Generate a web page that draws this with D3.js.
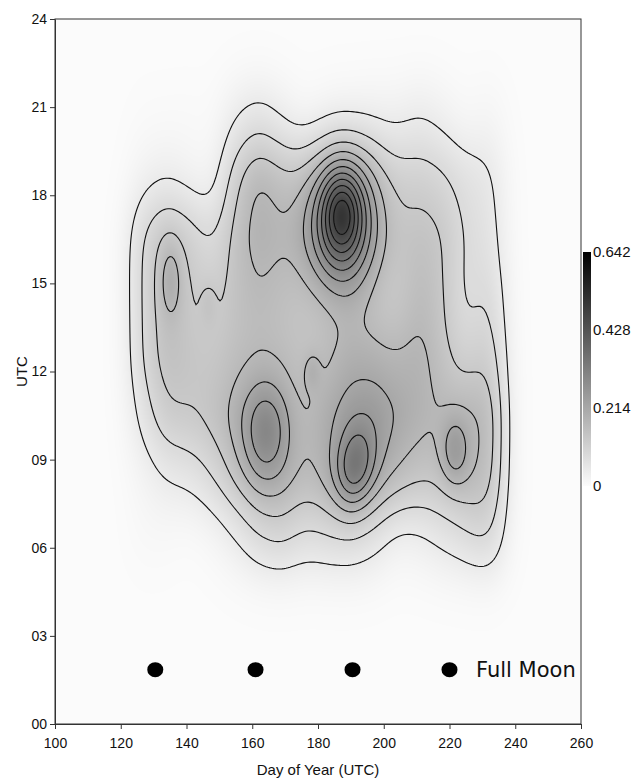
<!DOCTYPE html>
<html>
<head>
<meta charset="utf-8">
<script src="https://cdn.jsdelivr.net/npm/d3@7"></script>
<style>
  body { margin: 0; background: #ffffff; }
  svg { display: block; }
  .tick text { font-family: "Liberation Sans", Arial, sans-serif; font-size: 14px; fill: #111; }
</style>
</head>
<body>
<svg id="chart" width="636" height="778"></svg>
<script>
// density surface: a soft lattice of bumps
// (one weight per day column, one row per hour) plus a few sharp peaks
var latticeDays  = [127, 134, 141, 148, 155, 162, 169, 176, 183, 190, 197, 204, 211, 218, 225, 232];
var latticeHours = [6.5, 8.5, 10.5, 12.5, 14.5, 16.5, 18.5, 20.5];
var wAt0630 = [.004, .003, .000, .004, .015, .036, .046, .029, .035, .038, .026, .007, .012, .023, .032, .048];
var wAt0830 = [.007, .018, .021, .036, .061, .082, .081, .067, .082, .083, .088, .072, .059, .062, .074, .072];
var wAt1030 = [.024, .055, .054, .062, .081, .076, .073, .064, .086, .104, .110, .092, .078, .070, .076, .078];
var wAt1230 = [.040, .069, .056, .052, .063, .067, .065, .058, .064, .080, .077, .070, .081, .058, .036, .056];
var wAt1430 = [.040, .066, .053, .045, .061, .069, .061, .048, .039, .046, .045, .045, .072, .055, .024, .042];
var wAt1630 = [.043, .067, .051, .030, .063, .084, .070, .058, .044, .045, .054, .051, .064, .057, .031, .028];
var wAt1830 = [.010, .015, .008, .002, .052, .084, .061, .042, .021, .028, .044, .044, .049, .042, .028, .025];
var wAt2030 = [.002, .002, .003, .001, .017, .028, .014, .000, .000, .000, .009, .011, .020, .011, .002, .009];
var latticeSdDay = 4.5, latticeSdHour = 1.2;

// peaks: main (3 parts), lower left, lower middle (2 parts), left lobe,
// small knot near day 147, knot near day 178, lower right
var peakDay    = [187.3, 187.0, 187.1, 164.2, 192.8, 190.0, 135.2, 146.7, 178.2, 221.6];
var peakHour   = [17.6, 16.8, 17.2, 10.0, 9.1, 8.4, 15.1, 14.3, 12.0, 9.3];
var peakAmp    = [.116, .040, .276, .114, .069, .089, .053, .022, .035, .079];
var peakSdDay  = [4.0, 4.0, 7.5, 5.0, 4.0, 4.0, 2.4, 1.8, 1.8, 3.0];
var peakSdHour = [0.9, 0.9, 1.8, 1.2, 0.9, 0.9, 0.9, 0.55, 0.45, 0.8];

var moonDays = [130.5, 161, 190.5, 220];
var moonHour = 1.85;

var xTicks = [100, 120, 140, 160, 180, 200, 220, 240, 260];
var yTicks = [0, 3, 6, 9, 12, 15, 18, 21, 24];
var barTicks = [0, 0.214, 0.428, 0.642];
var maxDensity = 0.642;
var levelCount = 15;   // contour step = max / 15

// collect every bump into one list
var bumps = [];
var latticeRows = [wAt0630, wAt0830, wAt1030, wAt1230, wAt1430, wAt1630, wAt1830, wAt2030];
latticeRows.forEach(function(row, r) {
  row.forEach(function(w, c) {
    if (w > 0) bumps.push({ day: latticeDays[c], hour: latticeHours[r], amp: w, sd: latticeSdDay, sh: latticeSdHour });
  });
});
peakDay.forEach(function(d, i) {
  bumps.push({ day: d, hour: peakHour[i], amp: peakAmp[i], sd: peakSdDay[i], sh: peakSdHour[i] });
});

function density(day, hour) {
  var s = 0;
  for (var i = 0; i < bumps.length; i++) {
    var b = bumps[i];
    var dx = (day - b.day) / b.sd;
    var dy = (hour - b.hour) / b.sh;
    s += b.amp * Math.exp(-0.5 * (dx * dx + dy * dy));
  }
  return s;
}

var plot = { left: 55, top: 19, right: 581, bottom: 724 };
var pw = plot.right - plot.left,
    ph = plot.bottom - plot.top;

var svg = d3.select("#chart");

var x = d3.scaleLinear().domain([100, 260]).range([plot.left, plot.right]);
var y = d3.scaleLinear().domain([0, 24]).range([plot.bottom, plot.top]);
var shade = d3.scaleLinear().domain([0, maxDensity]).range(["#fbfbfb", "#000000"]).clamp(true);

// grey heat map, one value per pixel, painted on a canvas then put in the svg
var canvas = document.createElement("canvas");
canvas.width = pw;
canvas.height = ph;
var ctx = canvas.getContext("2d");
var img = ctx.createImageData(pw, ph);
var lut = d3.range(256).map(function(k) { return d3.rgb(shade(k / 255 * maxDensity)); });
for (var j = 0; j < ph; j++) {
  var hour = y.invert(plot.top + j + 0.5);
  for (var i = 0; i < pw; i++) {
    var v = density(x.invert(plot.left + i + 0.5), hour);
    var c = lut[Math.max(0, Math.min(255, Math.round(v / maxDensity * 255)))];
    var p = (j * pw + i) * 4;
    img.data[p] = c.r; img.data[p + 1] = c.g; img.data[p + 2] = c.b; img.data[p + 3] = 255;
  }
}
ctx.putImageData(img, 0, 0);

svg.append("image")
  .attr("x", plot.left).attr("y", plot.top)
  .attr("width", pw).attr("height", ph)
  .attr("href", canvas.toDataURL());

// contour lines on a 2px grid
var step = 2;
var gn = Math.ceil(pw / step), gm = Math.ceil(ph / step);
var grid = new Float64Array(gn * gm);
for (var j = 0; j < gm; j++) {
  for (var i = 0; i < gn; i++) {
    grid[j * gn + i] = density(x.invert(plot.left + step * i + step / 2),
                               y.invert(plot.top + step * j + step / 2));
  }
}
var levels = d3.range(1, levelCount).map(function(k) { return maxDensity * k / levelCount; });
var contours = d3.contours().size([gn, gm]).thresholds(levels)(grid);
var path = d3.geoPath(d3.geoIdentity().scale(step).translate([plot.left, plot.top]));

svg.append("g")
  .selectAll("path")
  .data(contours)
  .enter()
  .append("path")
  .attr("d", path)
  .style("fill", "none")
  .style("stroke", "#111")
  .style("stroke-width", 1.1);

// full moon dates
svg.append("g")
  .selectAll("ellipse")
  .data(moonDays)
  .enter()
  .append("ellipse")
  .attr("cx", function(d) { return x(d); })
  .attr("cy", y(moonHour))
  .attr("rx", 8)
  .attr("ry", 7.5)
  .style("fill", "#000");

svg.append("text")
  .attr("x", 476)
  .attr("y", y(moonHour))
  .attr("dy", "0.36em")
  .style("font-family", "'DejaVu Sans', Verdana, sans-serif")
  .style("font-size", "21px")
  .style("fill", "#111")
  .text("Full Moon");

// frame
svg.append("rect")
  .attr("x", plot.left).attr("y", plot.top)
  .attr("width", pw).attr("height", ph)
  .style("fill", "none")
  .style("stroke", "#333")
  .style("stroke-width", 1);

// axes
var xAxis = svg.append("g")
  .attr("transform", "translate(0," + plot.bottom + ")")
  .call(d3.axisBottom(x).tickValues(xTicks).tickSize(5).tickSizeOuter(0).tickPadding(9));
var yAxis = svg.append("g")
  .attr("transform", "translate(" + plot.left + ",0)")
  .call(d3.axisLeft(y).tickValues(yTicks).tickFormat(d3.format("02d")).tickSize(5).tickSizeOuter(0).tickPadding(3));
[xAxis, yAxis].forEach(function(a) {
  a.select(".domain").style("stroke", "#333");
  a.selectAll(".tick line").style("stroke", "#333");
});

svg.append("text")
  .attr("x", (plot.left + plot.right) / 2)
  .attr("y", 770)
  .attr("dy", "0.35em")
  .attr("text-anchor", "middle")
  .style("font-family", "'Liberation Sans', Arial, sans-serif")
  .style("font-size", "15px")
  .style("fill", "#111")
  .text("Day of Year (UTC)");

svg.append("text")
  .attr("transform", "translate(22," + y(12) + ") rotate(-90)")
  .attr("dy", "0.35em")
  .attr("text-anchor", "middle")
  .style("font-family", "'Liberation Sans', Arial, sans-serif")
  .style("font-size", "15px")
  .style("fill", "#111")
  .text("UTC");

// colour bar
var bar = { x: 583, width: 8, top: 252, bottom: 486 };
var barY = d3.scaleLinear().domain([0, maxDensity]).range([bar.bottom, bar.top]);
var grad = svg.append("defs").append("linearGradient")
  .attr("id", "bar-grad")
  .attr("x1", 0).attr("y1", 1).attr("x2", 0).attr("y2", 0);
grad.selectAll("stop")
  .data(d3.range(0, 1.0001, 0.1))
  .enter()
  .append("stop")
  .attr("offset", function(t) { return t; })
  .attr("stop-color", function(t) { return shade(t * maxDensity); });

svg.append("rect")
  .attr("x", bar.x).attr("y", bar.top)
  .attr("width", bar.width).attr("height", bar.bottom - bar.top)
  .style("fill", "url(#bar-grad)");

svg.append("g")
  .selectAll("text")
  .data(barTicks)
  .enter()
  .append("text")
  .attr("x", bar.x + bar.width + 2)
  .attr("y", function(d) { return barY(d); })
  .attr("dy", "0.35em")
  .style("font-family", "'Liberation Sans', Arial, sans-serif")
  .style("font-size", "15px")
  .style("fill", "#111")
  .text(function(d) { return d === 0 ? "0" : d3.format(".3f")(d); });
</script>
</body>
</html>
